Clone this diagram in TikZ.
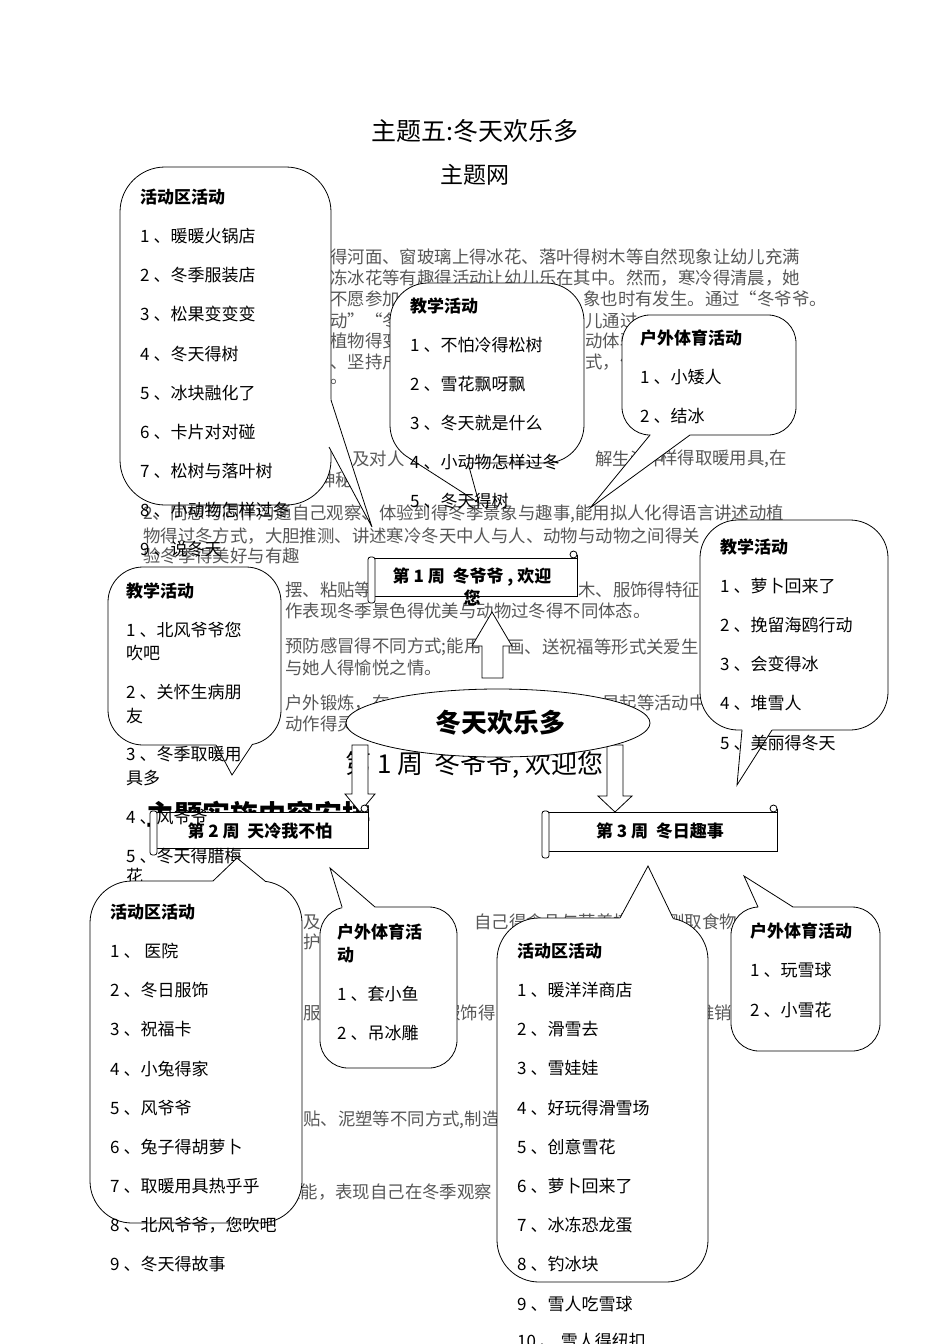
\documentclass[tikz,border=0pt]{standalone}
\usepackage{fontspec}
\setmainfont{Noto Sans CJK SC}
\newcommand\calloutshape[8]{%
  \draw[shapebox, rounded corners=#5pt] (#1,#2) rectangle (#3,#4);
  \fill[white] #6 -- #7 -- #8 -- ({(#1+#3)/2},{(#2+#4)/2}) -- cycle;
  \draw[line width=0.8pt, line join=miter] #6 -- #7 -- #8;
}
\newcommand\scrollbanner[4]{%
  \draw[shapebox] (#1+4,#2) rectangle (#3,#4);
  \draw[shapebox, rounded corners=2.5pt] (#1-2,#2-1) rectangle (#1+5,#4+7);
  \draw[line width=0.8pt] (#3,#2) -- (#3,#2-3);
  \draw[shapebox] (#3-3.5,#2-3.5) circle (3.5pt);
}
\begin{document}
\begin{tikzpicture}[x=1pt,y=-1pt,
  shapebox/.style={draw=black, line width=0.8pt, fill=white},
  bg/.style={font=\fontsize{17.4}{20}\selectfont, text=black!66, anchor=west, inner sep=0pt},
  item/.style={font=\fontsize{17}{20}\selectfont, anchor=west, inner sep=0pt},
  ttl/.style={font=\fontsize{17}{20}\selectfont\bfseries, anchor=west, inner sep=0pt},
  wk/.style={font=\fontsize{17}{20}\selectfont\bfseries, inner sep=0pt},
]
\useasboundingbox (0,0) rectangle (950,1344);

% titles
\node[font=\fontsize{25}{30}\selectfont, inner sep=0pt] (title) at (475,131) {主题五:冬天欢乐多};
\node[font=\fontsize{23}{28}\selectfont, inner sep=0pt] (subtitle) at (475,175) {主题网};

% background paragraph fragments
\node[bg] (bg1) at (330,257) {得河面、窗玻璃上得冰花、落叶得树木等自然现象让幼儿充满};
\node[bg] (bg2) at (330,278) {冻冰花等有趣得活动让幼儿乐在其中。然而，寒冷得清晨，她};
\node[bg] (bg3a) at (330,299) {不愿参加};
\node[bg] (bg3b) at (583,299) {象也时有发生。通过“冬爷爷。};
\node[bg] (bg4a) at (330,321) {动”“冬日};
\node[bg] (bg4b) at (585,321) {儿通过};
\node[bg] (bg5a) at (330,341) {植物得变};
\node[bg] (bg5b) at (585,341) {动体验};
\node[bg] (bg6a) at (330,362) {、坚持户};
\node[bg] (bg6b) at (585,362) {式，体};
\node[bg] (bg6c) at (765,362) {情，};
\node[bg] (bg7) at (330,382) {。};
\node[bg] (bg8a) at (352,459) {及对人};
\node[bg] (bg8b) at (595,459) {解生活中};
\node[bg] (bg8c) at (660,459) {样得取暖用具,在};
\node[bg] (bg9) at (318,480) {神秘};
\node[bg] (bg10) at (143,514) {2、同想与同伴沟通自己观察、体验到得冬季景象与趣事,能用拟人化得语言讲述动植};
\node[bg] (bg11) at (143,536) {物得过冬方式，大胆推测、讲述寒冷冬天中人与人、动物与动物之间得关};
\node[bg] (bg12) at (143,556) {验冬季得美好与有趣};
\node[bg] (bg13a) at (285,590) {摆、粘贴等};
\node[bg] (bg13b) at (578,590) {木、服饰得特征};
\node[bg] (bg14) at (285,611) {作表现冬季景色得优美与动物过冬得不同体态。};
\node[bg] (bg15a) at (285,647) {预防感冒得不同方式;能用};
\node[bg] (bg15b) at (507,647) {画、送祝福等形式关爱生};
\node[bg] (bg16) at (285,668) {与她人得愉悦之情。};
\node[bg] (bg17a) at (285,703) {户外锻炼，在};
\node[bg] (bg17b) at (602,703) {早起等活动中};
\node[bg] (bg18) at (285,724) {动作得灵};
\node[bg] (bg19a) at (303,922) {及};
\node[bg] (bg19b) at (474,922) {自己得食品与营养搭配};
\node[bg] (bg19c) at (667,922) {刚取食物};
\node[bg] (bg20) at (303,942) {护};
\node[bg] (bg21a) at (303,1013) {服};
\node[bg] (bg21b) at (443,1013) {服饰得};
\node[bg] (bg21c) at (697,1013) {推销};
\node[bg] (bg22) at (303,1120) {贴、泥塑等不同方式,制造};
\node[bg] (bg23) at (283,1192) {技能，表现自己在冬季观察};

% headings behind
\node[font=\fontsize{26}{30}\selectfont, anchor=west, inner sep=0pt] (h1) at (345,765) {第 1 周\ \ 冬爷爷, 欢迎您};
\node[font=\fontsize{28}{32}\selectfont\bfseries, anchor=west, inner sep=0pt] (h2) at (146,815) {主题实施内容安排};

% callout A
\calloutshape{120}{167}{331}{505}{45}{(331,400)}{(372,527)}{(329,447)}
\node[ttl] (aT) at (140,197) {活动区活动};
\node[item] (a1) at (140,236) {1\kern4pt 、暖暖火锅店};
\node[item] (a2) at (140,275) {2\kern4pt 、冬季服装店};
\node[item] (a3) at (140,314) {3\kern4pt 、松果变变变};
\node[item] (a4) at (140,354) {4\kern4pt 、冬天得树};
\node[item] (a5) at (140,393) {5\kern4pt 、冰块融化了};
\node[item] (a6) at (140,432) {6\kern4pt 、卡片对对碰};
\node[item] (a7) at (140,471) {7\kern4pt 、松树与落叶树};
\node[item] (a8) at (140,510) {8\kern4pt 、小动物怎样过冬};
\node[item] (a9) at (140,549) {9\kern4pt 、说冬天};

% callout B
\calloutshape{390}{283}{584}{463}{38}{(409,458)}{(479,503)}{(468,463)}
\node[ttl] (bT) at (410,306) {教学活动};
\node[item] (b1) at (410,345) {1\kern4pt 、不怕冷得松树};
\node[item] (b2) at (410,384) {2\kern4pt 、雪花飘呀飘};
\node[item] (b3) at (410,423) {3\kern4pt 、冬天就是什么};
\node[item] (b4) at (410,462) {4\kern4pt 、小动物怎样过冬};
\node[item] (b5) at (410,501) {5\kern4pt 、冬天得树};

% callout C
\calloutshape{622}{315}{796}{435}{28}{(650,435)}{(590,508)}{(690,435)}
\node[ttl] (cT) at (640,338) {户外体育活动};
\node[item] (c1) at (640,377) {1\kern4pt 、小矮人};
\node[item] (c2) at (640,416) {2\kern4pt 、结冰};

% callout D
\calloutshape{700}{520}{888}{730}{38}{(742,730)}{(737,785)}{(772,730)}
\node[ttl] (dT) at (720,547) {教学活动};
\node[item] (d1) at (720,586) {1\kern4pt 、萝卜回来了};
\node[item] (d2) at (720,625) {2\kern4pt 、挽留海鸥行动};
\node[item] (d3) at (720,664) {3\kern4pt 、会变得冰};
\node[item] (d4) at (720,703) {4\kern4pt 、堆雪人};
\node[item] (d5) at (720,743) {5\kern4pt 、美丽得冬天};

% block arrows and ellipse
\draw[shapebox] (482,678) -- (482,646) -- (472,646) -- (492,612) -- (512,646) -- (503,646) -- (503,678) -- cycle;
\draw[shapebox] (352,745) -- (352,794) -- (345,794) -- (360,812) -- (375,794) -- (368,794) -- (368,745) -- cycle;
\draw[shapebox] (607,745) -- (607,796) -- (598,796) -- (615,812) -- (632,796) -- (623,796) -- (623,745) -- cycle;
\draw[shapebox] (498,723) ellipse [x radius=152pt, y radius=34pt];
\node[font=\fontsize{26}{30}\selectfont\bfseries, inner sep=0pt] (center) at (500,723) {冬天欢乐多};

% week banners
\scrollbanner{370}{558}{577}{596}
\node[wk] (w1a) at (472,577) {第 1 周\ \ 冬爷爷 , 欢迎};
\node[wk] (w1b) at (472,598) {您};
\scrollbanner{152}{812}{368}{848}
\node[wk] (w2) at (260,831) {第 2 周\ \ 天冷我不怕};
\scrollbanner{544}{812}{777}{851}
\node[wk] (w3) at (660,831) {第 3 周\ \ 冬日趣事};

% callout E
\calloutshape{108}{567}{281}{745}{35}{(216,745)}{(232,775)}{(252,745)}
\node[ttl] (eT) at (126,591) {教学活动};
\node[item] (e1) at (126,630) {1\kern4pt 、北风爷爷您};
\node[item] (e1b) at (126,653) {吹吧};
\node[item] (e2) at (126,692) {2\kern4pt 、关怀生病朋};
\node[item] (e2b) at (126,716) {友};
\node[item] (e3) at (126,754) {3\kern4pt 、冬季取暖用};
\node[item] (e3b) at (126,778) {具多};
\node[item] (e4) at (126,817) {4\kern4pt 、风爷爷};
\node[item] (e5) at (126,856) {5\kern4pt 、冬天得腊梅};
\node[item] (e5b) at (126,876) {花};

% callout F
\calloutshape{90}{881}{302}{1223}{42}{(213,881)}{(237,858)}{(265,881)}
\node[ttl] (fT) at (110,912) {活动区活动};
\node[item] (f1) at (110,951) {1\kern4pt 、\ 医院};
\node[item] (f2) at (110,990) {2\kern4pt 、冬日服饰};
\node[item] (f3) at (110,1029) {3\kern4pt 、祝福卡};
\node[item] (f4) at (110,1069) {4\kern4pt 、小兔得家};
\node[item] (f5) at (110,1108) {5\kern4pt 、风爷爷};
\node[item] (f6) at (110,1147) {6\kern4pt 、兔子得胡萝卜};
\node[item] (f7) at (110,1186) {7\kern4pt 、取暖用具热乎乎};
\node[item] (f8) at (110,1225) {8\kern4pt 、北风爷爷，您吹吧};
\node[item] (f9) at (110,1264) {9\kern4pt 、冬天得故事};

% callout G
\calloutshape{320}{907}{457}{1068}{28}{(342,907)}{(330,868)}{(375,907)}
\node[ttl] (gT) at (337,932) {户外体育活};
\node[ttl] (gT2) at (337,955) {动};
\node[item] (g1) at (337,994) {1\kern4pt 、套小鱼};
\node[item] (g2) at (337,1033) {2\kern4pt 、吊冰雕};

% callout H
\calloutshape{497}{918}{708}{1282}{42}{(620,918)}{(648,866)}{(673,918)}
\node[ttl] (hT) at (517,951) {活动区活动};
\node[item] (h1) at (517,990) {1\kern4pt 、暖洋洋商店};
\node[item] (h2) at (517,1029) {2\kern4pt 、滑雪去};
\node[item] (h3) at (517,1068) {3\kern4pt 、雪娃娃};
\node[item] (h4) at (517,1108) {4\kern4pt 、好玩得滑雪场};
\node[item] (h5) at (517,1147) {5\kern4pt 、创意雪花};
\node[item] (h6) at (517,1186) {6\kern4pt 、萝卜回来了};
\node[item] (h7) at (517,1225) {7\kern4pt 、冰冻恐龙蛋};
\node[item] (h8) at (517,1264) {8\kern4pt 、钓冰块};
\node[item] (h9) at (517,1304) {9\kern4pt 、雪人吃雪球};
\node[item] (h10) at (517,1341) {10\kern4pt 、\ 雪人得纽扣};

% callout I
\calloutshape{731}{907}{880}{1051}{28}{(758,907)}{(744,876)}{(793,907)}
\node[ttl] (iT) at (750,931) {户外体育活动};
\node[item] (i1) at (750,970) {1\kern4pt 、玩雪球};
\node[item] (i2) at (750,1010) {2\kern4pt 、小雪花};
\end{tikzpicture}
\end{document}
